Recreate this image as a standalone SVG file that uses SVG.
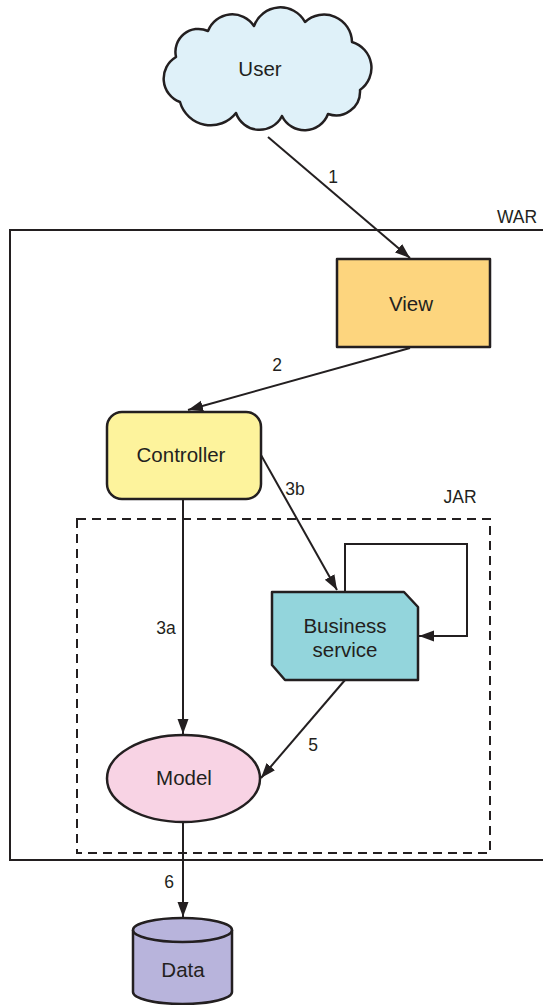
<svg xmlns="http://www.w3.org/2000/svg" width="543" height="1005" viewBox="0 0 543 1005">
  <style>
    .node { stroke: #231f20; stroke-width: 2.5; stroke-linejoin: round; }
    .frame { fill: none; stroke: #231f20; stroke-width: 2; }
    .dash { fill: none; stroke: #231f20; stroke-width: 2; stroke-dasharray: 9 6; }
    .edge { fill: none; stroke: #231f20; stroke-width: 2; }
    .lbl { font-family: "Liberation Sans", Arial, sans-serif; font-size: 20.5px; fill: #231f20; text-anchor: middle; }
    .num { font-family: "Liberation Sans", Arial, sans-serif; font-size: 17.5px; fill: #231f20; text-anchor: middle; }
  </style>
  <defs>
    <marker id="arrow" markerUnits="userSpaceOnUse" markerWidth="16" markerHeight="12" refX="15" refY="5.5" orient="auto">
      <path d="M0,0 L15,5.5 L0,11 z" fill="#231f20"/>
    </marker>
  </defs>

  <rect width="543" height="1005" fill="#ffffff"/>

  <!-- containers -->
  <g id="war">
    <path class="frame" d="M545,230 H10 V860 H545"/>
    <text class="num" x="517" y="223">WAR</text>
  </g>
  <g id="jar">
    <rect class="dash" x="77" y="519" width="413" height="334"/>
    <text class="num" x="460" y="503">JAR</text>
  </g>

  <!-- nodes -->
  <g id="user">
    <path class="node" fill="#dff1f9" d="M180,102 A25,25 0 0 1 176,57 A23,23 0 0 1 208,31 A26,26 0 0 1 254,26 A28,28 0 0 1 305,22 A28,28 0 0 1 352,42 A27,27 0 0 1 360,90 A24,24 0 0 1 328,114 A25,25 0 0 1 282,116 A25,25 0 0 1 236,113 A32,32 0 0 1 180,102 Z"/>
    <text class="lbl" x="260" y="76">User</text>
  </g>
  <g id="view">
    <rect class="node" fill="#fdd57e" x="337" y="259" width="153" height="88"/>
    <text class="lbl" x="411" y="311">View</text>
  </g>
  <g id="controller">
    <rect class="node" fill="#fdf39c" x="107" y="412" width="154" height="87" rx="15"/>
    <text class="lbl" x="181" y="462">Controller</text>
  </g>
  <g id="business">
    <path class="node" fill="#93d5dc" d="M272,592 H404 L418,607 V680 H285 L272,665 Z"/>
    <text class="lbl" x="345" y="633">Business</text>
    <text class="lbl" x="345" y="657">service</text>
  </g>
  <g id="model">
    <ellipse class="node" fill="#f8d3e4" cx="183.5" cy="778.5" rx="76.5" ry="43.5"/>
    <text class="lbl" x="184" y="785">Model</text>
  </g>
  <g id="data">
    <path class="node" fill="#b8b4dc" d="M133,930 V992 A49.5,12 0 0 0 232,992 V930"/>
    <ellipse class="node" fill="#b8b4dc" cx="182.5" cy="930" rx="49.5" ry="12"/>
    <text class="lbl" x="183" y="977">Data</text>
  </g>

  <!-- connectors -->
  <g id="connectors">
    <path class="edge" marker-end="url(#arrow)" d="M268,137 L410,258"/>
    <text class="num" x="333" y="183">1</text>
    <path class="edge" marker-end="url(#arrow)" d="M410,348 L188,410"/>
    <text class="num" x="277" y="371">2</text>
    <path class="edge" marker-end="url(#arrow)" d="M183,499 L183,734"/>
    <text class="num" x="166" y="634">3a</text>
    <path class="edge" marker-end="url(#arrow)" d="M261,455 L337,590"/>
    <text class="num" x="295" y="495">3b</text>
    <path class="edge" marker-end="url(#arrow)" d="M345,592 V544 H467 V636 H419"/>
    <path class="edge" marker-end="url(#arrow)" d="M345,680 L261,778"/>
    <text class="num" x="313" y="751">5</text>
    <path class="edge" marker-end="url(#arrow)" d="M183,822 L183,917"/>
    <text class="num" x="169" y="888">6</text>
  </g>
</svg>
